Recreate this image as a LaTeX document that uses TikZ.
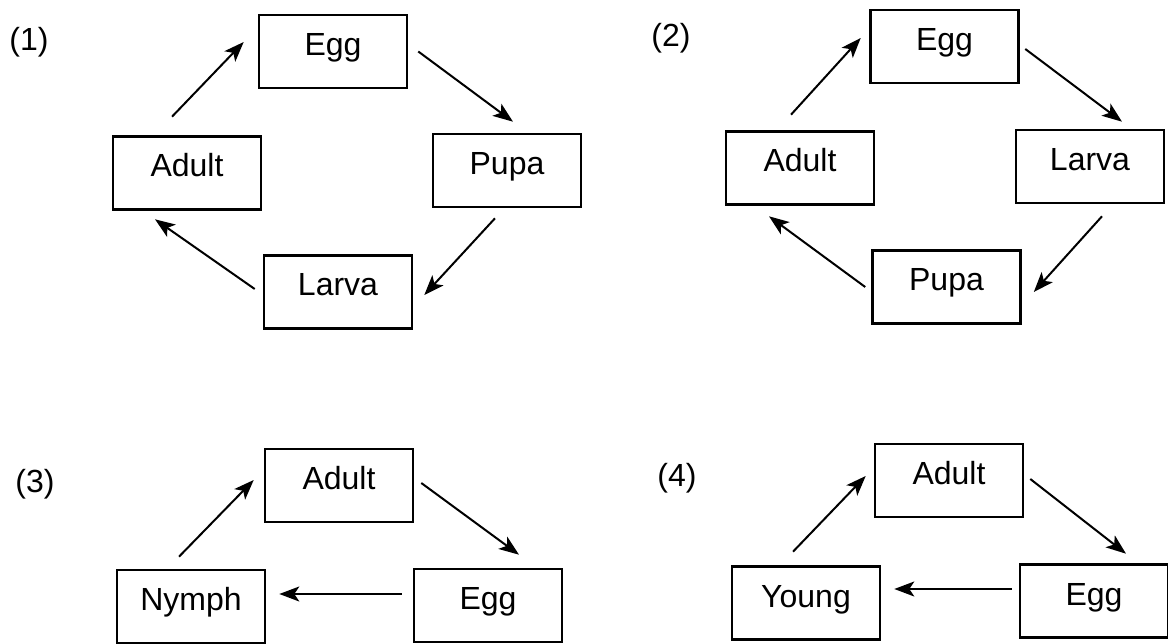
\documentclass[tikz,border=0pt]{standalone}
\usepackage{fontspec}
\setmainfont{Liberation Sans}
\usetikzlibrary{arrows.meta}
\tikzset{
  stage/.style={draw, line width=2.6pt, minimum width=148pt, minimum height=73pt,
    inner sep=0pt, text height=23pt, text depth=15pt,
    font=\fontsize{32}{38}\selectfont},
  tag/.style={font=\fontsize{32}{38}\selectfont},
  cyc/.style={line width=2pt, -{Stealth[length=20pt,width=15pt,inset=5pt]}}
}
\begin{document}
\begin{tikzpicture}[x=1pt,y=-1pt]
      \useasboundingbox (0,0) rectangle (1168,644);
      % panel labels
      \foreach \n/\x/\y/\t in{%
        lab1/29/42/(1), lab2/671/38/(2),
        lab3/35/484/(3), lab4/677/478/(4)
      }{
        \node[tag] (\n) at (\x,\y) {\t};
      }
      % stages
      \foreach \n/\x/\y/\t in{%
        E1/333/51.5/Egg, A1/187/173/Adult, P1/507/170.5/Pupa, L1/338/292/Larva,
        E2/944.5/46.5/Egg, A2/800/168/Adult, L2/1090/166.5/Larva, P2/946.5/287/Pupa,
        Ad3/339/485.5/Adult, N3/191/606.5/Nymph, Eg3/488/605.5/Egg,
        Ad4/949/480.5/Adult, Y4/806/603/Young, Eg4/1094/601/Egg
      }{
        \node[stage] (\n) at (\x,\y) {\t};
      }
      % (1)
      \draw[cyc] ([shift={(-15pt,18.5pt)}]A1.north) -- ([shift={(-14pt,9.5pt)}]E1.west);
      \draw[cyc] ([shift={(10pt,0pt)}]E1.east) -- ([shift={(6pt,11pt)}]P1.north);
      \draw[cyc] ([shift={(-12pt,-10pt)}]P1.south) -- ([shift={(11pt,-3pt)}]L1.east);
      \draw[cyc] ([shift={(-8pt,3pt)}]L1.west) -- ([shift={(-32pt,-8.5pt)}]A1.south);
      % (2)
      \draw[cyc] ([shift={(-9pt,15.5pt)}]A2.north) -- ([shift={(-8.5pt,8.5pt)}]E2.west);
      \draw[cyc] ([shift={(5.5pt,-2.5pt)}]E2.east) -- ([shift={(32pt,7pt)}]L2.north);
      \draw[cyc] ([shift={(12pt,-12pt)}]L2.south) -- ([shift={(12pt,-5pt)}]P2.east);
      \draw[cyc] ([shift={(-6pt,0pt)}]P2.west) -- ([shift={(-31pt,-10.5pt)}]A2.south);
      % (3)
      \draw[cyc] ([shift={(-12pt,12pt)}]N3.north) -- ([shift={(-10pt,5.5pt)}]Ad3.west);
      \draw[cyc] ([shift={(7pt,2.5pt)}]Ad3.east) -- ([shift={(31pt,13pt)}]Eg3.north);
      \draw[cyc] ([shift={(-11pt,11.5pt)}]Eg3.west) -- ([shift={(13pt,12.5pt)}]N3.east);
      % (4)
      \draw[cyc] ([shift={(-13pt,13.5pt)}]Y4.north) -- ([shift={(-8pt,4.5pt)}]Ad4.west);
      \draw[cyc] ([shift={(6pt,1.5pt)}]Ad4.east) -- ([shift={(32pt,9.5pt)}]Eg4.north);
      \draw[cyc] ([shift={(-7pt,12pt)}]Eg4.west) -- ([shift={(13pt,14pt)}]Y4.east);
    \end{tikzpicture}
\end{document}
